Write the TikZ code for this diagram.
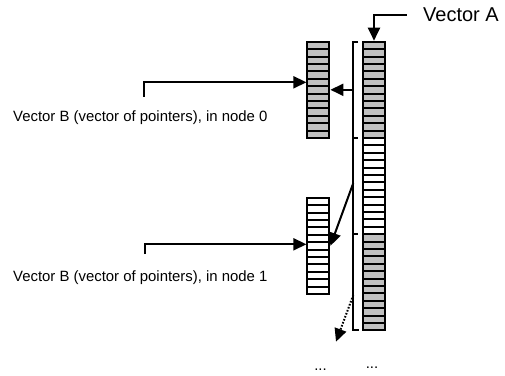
\documentclass[tikz,border=0pt]{standalone}
\usepackage{fontspec}
\setmainfont{Liberation Sans}
\usetikzlibrary{arrows.meta}
\definecolor{cellgray}{HTML}{C0C0C0}
\tikzset{
  vecsec/.style={draw=black, line width=2pt, minimum width=22pt, minimum height=96.2pt, inner sep=0pt, outer sep=0pt},
  graysec/.style={vecsec, fill=cellgray},
  whitesec/.style={vecsec, fill=white},
  cellline/.style={line width=2pt, draw=black},
  arr/.style={line width=2pt, -{Triangle[length=13pt,width=12pt]}},
  dotarr/.style={line width=2pt, dash pattern=on 1.6pt off 1.6pt, -{Triangle[length=13pt,width=12pt]}},
  brk/.style={line width=1.7pt},
  lbl/.style={inner sep=0pt, font=\fontsize{14.9}{17}\selectfont},
  biglbl/.style={inner sep=0pt, font=\fontsize{20}{24}\selectfont}
}
\newcommand{\cells}[1]{%
  \foreach \i in {1,...,12}
    \draw[cellline] ([yshift=-\i*7.4pt]#1.north west) -- ([yshift=-\i*7.4pt]#1.north east);}
\begin{document}
\begin{tikzpicture}[x=1pt,y=-1pt]
\useasboundingbox (0,0) rectangle (505,375);
% Vector A
\node[graysec]  (A1) at (374,89.8)  {};
\node[whitesec] (A2) at (374,186.0) {};
\node[graysec]  (A3) at (374,282.2) {};
\cells{A1}\cells{A2}\cells{A3}
% Vector B nodes
\node[graysec]  (B0) at (318.4,89.8)  {};
\node[whitesec] (B1) at (318.4,245.8) {};
\cells{B0}\cells{B1}
% bracket
\draw[brk] (358,42.3) -- (353.3,42.3) -- (353.3,330) -- (359,330);
\draw[brk] (353.3,137.7) -- (358,137.7);
\draw[brk] (353.3,234.3) -- (358,234.3);
\coordinate (p0) at (353.3,89.8);
\coordinate (p1) at (353.3,183);
\coordinate (p2) at (353.3,295);
\coordinate (d0) at (336,341.7);
\draw[arr] (p0) -- ([xshift=1pt]B0.east);
\draw[arr] (p1) -- ([xshift=1pt]B1.east);
\draw[dotarr] (p2) -- (d0);
% Vector A label
\node[biglbl, anchor=west] (LA) at (423,15) {Vector A};
\draw[arr] ([xshift=-16.3pt]LA.west) -| ([yshift=1pt]A1.north);
% Vector B labels
\node[lbl, anchor=base west] (L0) at (13,121) {Vector B (vector of pointers), in node 0};
\node[lbl, anchor=base west] (L1) at (13,281) {Vector B (vector of pointers), in node 1};
\coordinate (s0) at (144,96.7);
\coordinate (s1) at (144.7,254);
\draw[arr] (s0) |- ([xshift=-1pt,yshift=7.5pt]B0.west);
\draw[arr] (s1) |- ([xshift=-1pt,yshift=1.5pt]B1.west);
% ellipses
\node[lbl, anchor=base] (E0) at (320.5,370) {...};
\node[lbl, anchor=base] (E1) at (372,368) {...};
\end{tikzpicture}
\end{document}
